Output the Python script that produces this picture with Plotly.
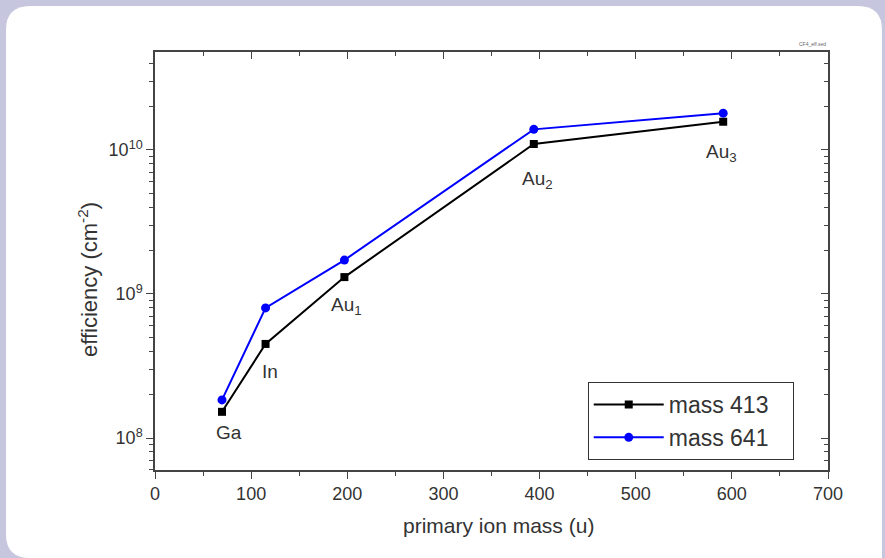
import math
import plotly.graph_objects as go

# ---- data ----
ion_labels = ["Ga", "In", "Au<sub>1</sub>", "Au<sub>2</sub>", "Au<sub>3</sub>"]
ion_mass = [69.7, 115, 197, 394, 591]
eff_413 = [1.52e8, 4.5e8, 1.31e9, 1.10e10, 1.57e10]
eff_641 = [1.84e8, 8.0e8, 1.72e9, 1.39e10, 1.80e10]
series_names = ["mass 413", "mass 641"]
y_tick_vals = [1e8, 1e9, 1e10]
y_tick_text = ["10<sup>8</sup>", "10<sup>9</sup>", "10<sup>10</sup>"]
x_tick_vals = [0, 100, 200, 300, 400, 500, 600, 700]

FONT = "Liberation Sans, Arial, sans-serif"
W, H = 885, 558
ML, MR, MT, MB = 155, 57, 52, 88
PW, PH = W - ML - MR, H - MT - MB

y_minor = [m * 10 ** e for e in range(7, 11) for m in range(2, 10)]
x_minor = list(range(50, 700, 100))
yrange = [7.778, 10.68]


def px(xp):
    return (xp - ML) / PW


def py(yp):
    return (H - MB - yp) / PH


fig = go.Figure()
fig.add_trace(go.Scatter(
    x=ion_mass, y=eff_413, mode="lines+markers",
    name=series_names[0] + "\u00a0\u00a0\u00a0",
    line=dict(color="black", width=2),
    marker=dict(symbol="square", size=8, color="black")))
fig.add_trace(go.Scatter(
    x=ion_mass, y=eff_641, mode="lines+markers",
    name=series_names[1] + "\u00a0\u00a0\u00a0",
    line=dict(color="#0000ff", width=2),
    marker=dict(symbol="circle", size=9, color="#0000ff")))
# invisible trace to hold the mirrored top/right axes
fig.add_trace(go.Scatter(x=ion_mass, y=eff_413, xaxis="x2", yaxis="y2",
                         mode="markers", marker=dict(opacity=0),
                         showlegend=False, hoverinfo="skip"))

offsets = [(7, -21), (4, -28), (2, -29), (4, -36), (-2, -31)]
for lab, xm, yv, (dx, dy) in zip(ion_labels, ion_mass, eff_413, offsets):
    fig.add_annotation(x=xm, y=math.log10(yv), text=lab, showarrow=False,
                       xshift=dx, yshift=dy,
                       font=dict(family=FONT, size=19, color="#333"))

fig.add_annotation(xref="paper", yref="paper", x=1.0, y=1.0, yshift=3,
                   xanchor="right", yanchor="bottom", showarrow=False,
                   text="CF4_eff.sed", font=dict(family=FONT, size=5, color="#666"))

# axis titles
fig.add_annotation(xref="paper", yref="paper", x=px(498), y=py(525),
                   xanchor="center", yanchor="middle",
                   text="primary ion mass (u)", showarrow=False,
                   font=dict(family=FONT, size=21, color="#333"))
fig.add_annotation(xref="paper", yref="paper", x=px(88), y=py(280),
                   xanchor="center", yanchor="middle",
                   text="efficiency (cm<sup>-2</sup>)", showarrow=False,
                   textangle=-90,
                   font=dict(family=FONT, size=22, color="#333"))

# background rounded white panel
x0, y0, x1, y1, r = 6, 6, 882, 558, 24
path = (f"M {px(x0 + r)},{py(y0)} L {px(x1 - r)},{py(y0)} "
        f"Q {px(x1)},{py(y0)} {px(x1)},{py(y0 + r)} "
        f"L {px(x1)},{py(y1)} "
        f"L {px(x0 + r)},{py(y1)} "
        f"Q {px(x0)},{py(y1)} {px(x0)},{py(y1 - r)} "
        f"L {px(x0)},{py(y0 + r)} "
        f"Q {px(x0)},{py(y0)} {px(x0 + r)},{py(y0)} Z")
fig.add_shape(type="path", xref="paper", yref="paper", path=path,
              fillcolor="white", line=dict(width=0), layer="below")

axis_common = dict(showline=True, linecolor="#444", linewidth=1.5,
                   showgrid=False, zeroline=False, tickcolor="#444",
                   tickwidth=1.2, ticklen=7)

fig.update_layout(
    width=W, height=H,
    margin=dict(l=ML, r=MR, t=MT, b=MB),
    paper_bgcolor="#c6c6de", plot_bgcolor="white",
    font=dict(family=FONT, size=14, color="#333"),
    showlegend=True,
    legend=dict(x=0.643, y=0.2105, xanchor="left", yanchor="top",
                bgcolor="white", bordercolor="#333", borderwidth=1,
                font=dict(family=FONT, size=23, color="#333"),
                itemwidth=70, tracegroupgap=0),
    xaxis=dict(range=[0, 700], tickvals=x_tick_vals, ticks="outside",
               tickfont=dict(size=18),
               minor=dict(tickvals=x_minor, ticks="outside", ticklen=4,
                          tickcolor="#444"),
               **axis_common),
    yaxis=dict(type="log", range=yrange, tickvals=y_tick_vals,
               ticktext=y_tick_text, ticks="outside",
               tickfont=dict(size=18),
               minor=dict(tickvals=y_minor, ticks="outside", ticklen=4,
                          tickcolor="#444"),
               **axis_common),
    xaxis2=dict(range=[0, 700], overlaying="x", side="top", anchor="y",
                tickvals=x_tick_vals, ticks="inside", showticklabels=False,
                minor=dict(tickvals=x_minor, ticks="inside", ticklen=4,
                           tickcolor="#444"),
                **axis_common),
    yaxis2=dict(type="log", range=yrange, overlaying="y", side="right",
                anchor="x", tickvals=y_tick_vals, ticks="inside",
                showticklabels=False,
                minor=dict(tickvals=y_minor, ticks="inside", ticklen=4,
                           tickcolor="#444"),
                **axis_common),
)

fig.write_html("out.html", config={"displayModeBar": False},
               post_script="document.body.style.margin='0';")
